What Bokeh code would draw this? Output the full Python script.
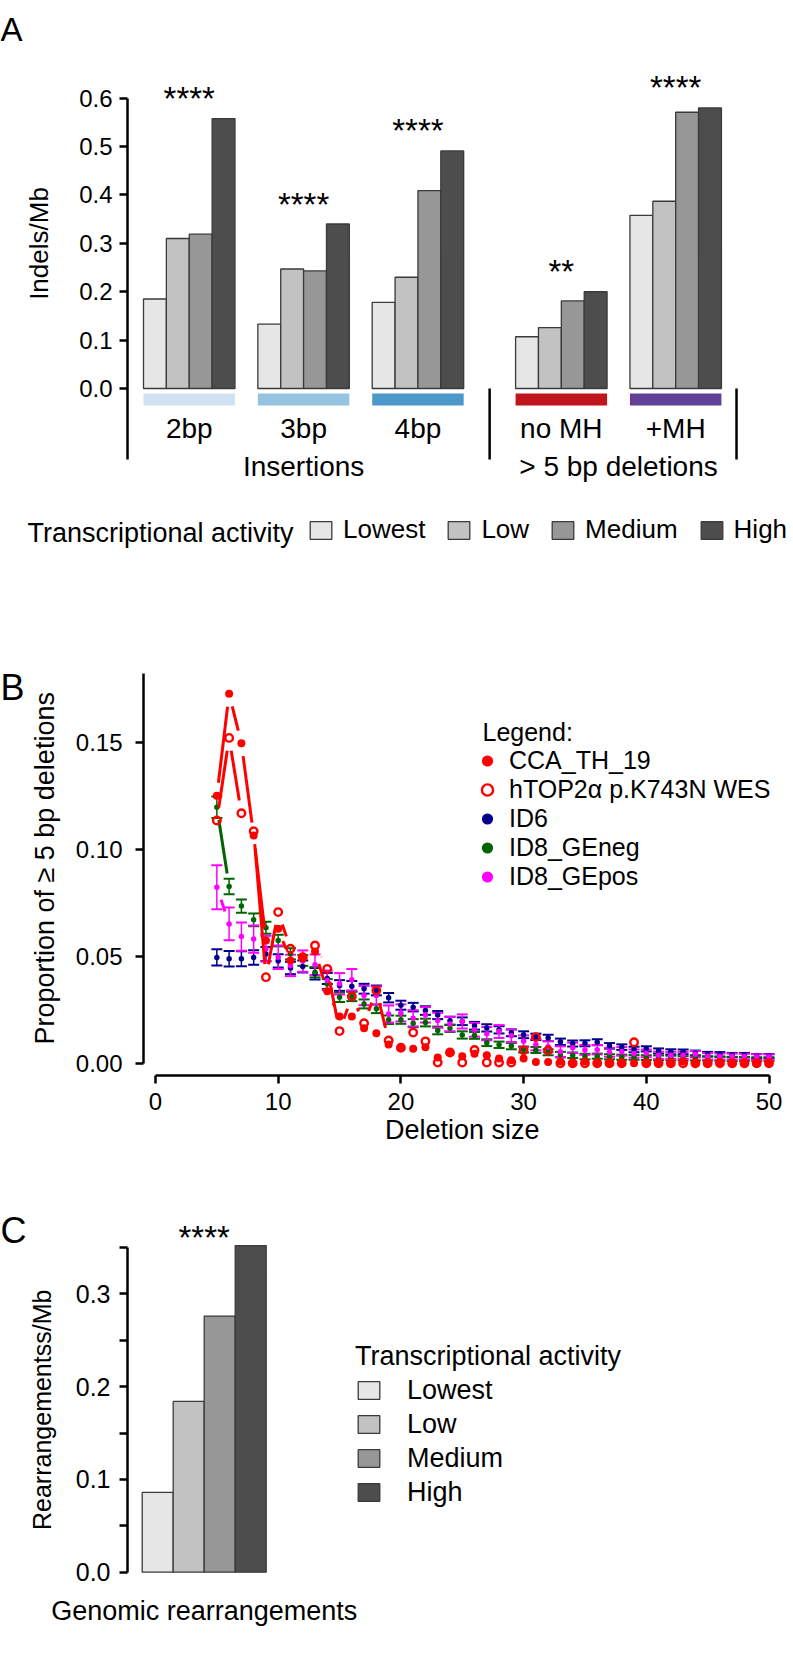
import math
from bokeh.plotting import figure
from bokeh.layouts import column
from bokeh.models import (Range1d, FixedTicker, NumeralTickFormatter, ColumnDataSource,
                          Legend, LegendItem, Whisker, TeeHead, LinearAxis)
from bokeh.embed import file_html
from bokeh.resources import INLINE
from bokeh.core.properties import value

# ------------------------------------------------------------------ data A
groups_a = ["2bp", "3bp", "4bp", "no MH", "+MH"]
types_a = ["Insertions", "Insertions", "Insertions", "> 5 bp deletions", "> 5 bp deletions"]
tiers = ["Lowest", "Low", "Medium", "High"]
lowest_a = [0.185, 0.133, 0.178, 0.107, 0.358]
low_a = [0.310, 0.247, 0.230, 0.126, 0.387]
medium_a = [0.319, 0.243, 0.409, 0.181, 0.571]
high_a = [0.558, 0.340, 0.491, 0.200, 0.580]
stars_a = ["****", "****", "****", "**", "****"]
ticks_a = [0.0, 0.1, 0.2, 0.3, 0.4, 0.5, 0.6]

# ------------------------------------------------------------------ data B
del_size = list(range(5, 51))
cca_th_19 = [0.1250, 0.1726, 0.1495, 0.1064, 0.0573, 0.0628, 0.0480, 0.0492, 0.0522, 0.0336,
             0.0218, 0.0218, 0.0163, 0.0140, 0.0087, 0.0072, 0.0067, 0.0075, 0.0027, 0.0050,
             0.0033, 0.0044, 0.0037, 0.0022, 0.0014, 0.0022, 0.0006, 0.0006, 0.0008, 0.0,
             0.0008, 0.0, 0.0, 0.0, 0.0, 0.0, 0.0, 0.0, 0.0008, 0.0,
             0.0, 0.0, 0.0, 0.0, 0.0, 0.0]
htop2a = [0.1134, 0.1520, 0.1168, 0.1084, 0.0402, 0.0706, 0.0535, 0.0495, 0.0550, 0.0441,
          0.0150, 0.0312, 0.0187, 0.0340, 0.0106, 0.0072, 0.0143, 0.0102, 0.0003, 0.0050,
          0.0003, 0.0062, 0.0003, 0.0003, 0.0003, 0.0060, 0.0122, 0.0059, 0.0, 0.0,
          0.0, 0.0, 0.0, 0.0, 0.0098, 0.0, 0.0, 0.0, 0.0, 0.0,
          0.0, 0.0, 0.0, 0.0, 0.0, 0.0]
id6 = [0.0494, 0.0488, 0.0488, 0.0494, 0.0510, 0.0478, 0.0445, 0.0452, 0.0418, 0.0396,
       0.0363, 0.0360, 0.0348, 0.0340, 0.0306, 0.0271, 0.0262, 0.0246, 0.0225, 0.0198,
       0.0196, 0.0175, 0.0165, 0.0156, 0.0142, 0.0133, 0.0123, 0.0118, 0.0100, 0.0092,
       0.0093, 0.0098, 0.0081, 0.0075, 0.0064, 0.0067, 0.0057, 0.0053, 0.0053, 0.0048,
       0.0042, 0.0041, 0.0038, 0.0038, 0.0033, 0.0033]
id6_err = [0.0038, 0.0036, 0.0035, 0.0034, 0.0033, 0.0031, 0.0029, 0.0028, 0.0027, 0.0026,
           0.0025, 0.0024, 0.0023, 0.0023, 0.0022, 0.0021, 0.0020, 0.0020, 0.0019, 0.0019,
           0.0018, 0.0018, 0.0017, 0.0017, 0.0016, 0.0016, 0.0015, 0.0015, 0.0015, 0.0014,
           0.0014, 0.0014, 0.0013, 0.0013, 0.0013, 0.0012, 0.0012, 0.0012, 0.0011, 0.0011,
           0.0011, 0.0011, 0.0010, 0.0010, 0.0010, 0.0010]
id8_geneg = [0.1196, 0.0826, 0.0734, 0.0670, 0.0633, 0.0573, 0.0511, 0.0480, 0.0425, 0.0370,
             0.0308, 0.0312, 0.0277, 0.0254, 0.0203, 0.0203, 0.0187, 0.0190, 0.0153, 0.0163,
             0.0132, 0.0130, 0.0096, 0.0086, 0.0080, 0.0064, 0.0062, 0.0051, 0.0040, 0.0037,
             0.0031, 0.0033, 0.0030, 0.0028, 0.0027, 0.0026, 0.0025, 0.0024, 0.0023, 0.0023,
             0.0022, 0.0021, 0.0020, 0.0020, 0.0019, 0.0019]
id8_geneg_err = [0.0050, 0.0036, 0.0031, 0.0030, 0.0028, 0.0027, 0.0026, 0.0025, 0.0024, 0.0023,
                 0.0022, 0.0022, 0.0021, 0.0020, 0.0020, 0.0019, 0.0019, 0.0018, 0.0018, 0.0017,
                 0.0017, 0.0016, 0.0016, 0.0015, 0.0015, 0.0014, 0.0014, 0.0014, 0.0013, 0.0013,
                 0.0013, 0.0012, 0.0012, 0.0012, 0.0011, 0.0011, 0.0011, 0.0011, 0.0010, 0.0010,
                 0.0010, 0.0010, 0.0010, 0.0009, 0.0009, 0.0009]
id8_gepos = [0.0822, 0.0651, 0.0592, 0.0580, 0.0535, 0.0495, 0.0457, 0.0477, 0.0460, 0.0387,
             0.0371, 0.0390, 0.0316, 0.0316, 0.0230, 0.0235, 0.0210, 0.0226, 0.0200, 0.0183,
             0.0195, 0.0156, 0.0138, 0.0148, 0.0128, 0.0102, 0.0087, 0.0077, 0.0054, 0.0072,
             0.0062, 0.0063, 0.0051, 0.0055, 0.0045, 0.0046, 0.0037, 0.0037, 0.0037, 0.0042,
             0.0032, 0.0031, 0.0031, 0.0031, 0.0029, 0.0029]
id8_gepos_err = [0.0103, 0.0076, 0.0066, 0.0064, 0.0060, 0.0055, 0.0050, 0.0050, 0.0048, 0.0046,
                 0.0050, 0.0050, 0.0045, 0.0042, 0.0040, 0.0040, 0.0038, 0.0036, 0.0035, 0.0034,
                 0.0033, 0.0032, 0.0031, 0.0030, 0.0029, 0.0028, 0.0027, 0.0026, 0.0025, 0.0024,
                 0.0023, 0.0022, 0.0021, 0.0020, 0.0019, 0.0018, 0.0017, 0.0016, 0.0016, 0.0015,
                 0.0015, 0.0014, 0.0014, 0.0013, 0.0013, 0.0012]
ticks_bx = [0, 10, 20, 30, 40, 50]
ticks_by = [0.0, 0.05, 0.10, 0.15]

# ------------------------------------------------------------------ data C
rearrangements = [0.086, 0.184, 0.276, 0.352]
stars_c = "****"
ticks_c = [0.0, 0.1, 0.2, 0.3]
minor_ticks_c = [0.05, 0.15, 0.25, 0.35]

# ------------------------------------------------------------------ styles
FONT = "Liberation Sans"
tier_colors = ["#e6e6e6", "#c2c2c2", "#979797", "#4d4d4d"]
group_colors = ["#d0e2f2", "#94c4df", "#4b98c9", "#c1151d", "#61409a"]
BAR_EDGE = "#3a3a3a"
RED, NAVY, GREEN, MAGENTA = "#ff0000", "#00008b", "#006400", "#ff00ff"
AXW = 2.5
W = 793
X0, Y0 = 0, 0     # page offset of the first figure


def make_axis(fixed, ticks, fmt, bounds, size, standoff, minor=None):
    ax = LinearAxis(fixed_location=fixed,
                    ticker=FixedTicker(ticks=ticks, minor_ticks=minor or []),
                    bounds=bounds)
    if fmt:
        ax.formatter = NumeralTickFormatter(format=fmt)
    ax.axis_line_width = AXW
    ax.axis_line_color = "black"
    ax.major_tick_line_width = AXW
    ax.major_tick_line_color = "black"
    ax.major_tick_out = 8
    ax.major_tick_in = 0
    if minor:
        ax.minor_tick_line_color = "black"
        ax.minor_tick_line_width = AXW
        ax.minor_tick_out = 8
        ax.minor_tick_in = 0
    else:
        ax.minor_tick_line_color = None
    ax.major_label_text_font = FONT
    ax.major_label_text_font_size = size
    ax.major_label_text_color = "black"
    ax.major_label_standoff = standoff
    return ax


def base_fig(h, xr, yr):
    p = figure(width=W, height=h, x_range=xr, y_range=yr, toolbar_location=None,
               output_backend="svg", x_axis_location=None, y_axis_location=None,
               min_border_left=0, min_border_right=0, min_border_top=0, min_border_bottom=0)
    p.outline_line_color = None
    p.grid.visible = False
    p.background_fill_color = "white"
    return p


def put_text(p, x, y, txt, size, align="left", baseline="middle", angle=0.0, y_offset=0):
    p.text(x=x if isinstance(x, list) else [x], y=y if isinstance(y, list) else [y],
           text=txt if isinstance(txt, list) else [txt], angle=angle,
           text_align=align, text_baseline=baseline, y_offset=y_offset,
           text_font=value(FONT), text_font_size=value(size), text_color="black")


def plain_legend(leg, size):
    leg.border_line_color = None
    leg.background_fill_alpha = 0
    leg.padding = 0
    leg.margin = 0
    leg.label_text_font = FONT
    leg.label_text_font_size = size
    leg.label_text_color = "black"


# ================================================================== panel A
HA, TOPA = 568, Y0
UA, YA = 22.87, 483.8          # px per bar width, px per unit


def xa(px):
    return (px - 143) / UA


def ya(py):
    return (388 - py) / YA


pa = base_fig(HA, Range1d(xa(X0), xa(X0 + W)), Range1d(ya(TOPA + HA), ya(TOPA)))
pa.add_layout(make_axis(xa(127), ticks_a, "0.0", (ya(459), ticks_a[-1]), "24px", 7), "left")

type_gap = 1.27                 # extra bar widths between insertions and deletions
starts = [g * 5 + (type_gap if t != types_a[0] else 0) for g, t in enumerate(types_a)]
centers = [s + 2 for s in starts]

bar_renderers = []
for i, vals in enumerate([lowest_a, low_a, medium_a, high_a]):
    src = ColumnDataSource(dict(x=[s + i + 0.5 for s in starts], top=vals))
    r = pa.vbar(x="x", top="top", bottom=0, width=1, source=src,
                fill_color=tier_colors[i], line_color=BAR_EDGE, line_width=1.3)
    bar_renderers.append(r)

pa.vbar(x=centers, width=4, top=ya(393), bottom=ya(405), fill_color=group_colors, line_color=None)
put_text(pa, centers, [ya(428)] * len(centers), groups_a, "28px", align="center")

type_names = []
for t in types_a:
    if t not in type_names:
        type_names.append(t)
type_centers = [sum(c for c, tt in zip(centers, types_a) if tt == t) /
                sum(1 for tt in types_a if tt == t) for t in type_names]
put_text(pa, type_centers, [ya(466)] * len(type_names), type_names, "28px", align="center")

sep1 = (starts[2] + 4 + starts[3]) / 2
sep2 = starts[4] + 4 + 0.66
pa.segment(x0=[sep1, sep2], y0=[0, 0], x1=[sep1, sep2], y1=[ya(459)] * 2,
           line_color="black", line_width=AXW)

tops = [max(v) for v in zip(lowest_a, low_a, medium_a, high_a)]
put_text(pa, centers, tops, stars_a, "33px", align="center", baseline="alphabetic", y_offset=-20)

put_text(pa, xa(38), ya(243), "Indels/Mb", "26px", align="center", angle=math.pi / 2)
put_text(pa, xa(0), ya(29), "A", "33px", baseline="alphabetic")
put_text(pa, xa(27), ya(532), "Transcriptional activity", "27px")

leg_a = Legend(items=[LegendItem(label=t, renderers=[r]) for t, r in zip(tiers, bar_renderers)],
               orientation="horizontal", location=(307 - X0, TOPA + HA - 545))
plain_legend(leg_a, "26px")
leg_a.glyph_width = 27
leg_a.glyph_height = 22
leg_a.label_height = 30
leg_a.label_standoff = 9
leg_a.spacing = 20
pa.add_layout(leg_a)

# ================================================================== panel B
HB, TOPB = 582, Y0 + 568
UB, YB = 12.27, 2140.0


def xb(px):
    return (px - 155) / UB


def yb(py):
    return (1062.7 - py) / YB


pb = base_fig(HB, Range1d(xb(X0), xb(X0 + W)), Range1d(yb(TOPB + HB), yb(TOPB)))
pb.add_layout(make_axis(yb(1075), ticks_bx, None, (ticks_bx[0], ticks_bx[-1]), "24px", 9), "below")
pb.add_layout(make_axis(xb(143), ticks_by, "0.00", (0, yb(673)), "24px", 13), "left")

GAP = 13.0


def gapped(xs, ys):
    out = dict(x0=[], y0=[], x1=[], y1=[])
    for i in range(len(xs) - 1):
        ddx, ddy = xs[i + 1] - xs[i], ys[i + 1] - ys[i]
        L = math.hypot(ddx * UB, ddy * YB)
        if L <= 2 * GAP:
            continue
        f = GAP / L
        out["x0"].append(xs[i] + ddx * f)
        out["y0"].append(ys[i] + ddy * f)
        out["x1"].append(xs[i + 1] - ddx * f)
        out["y1"].append(ys[i + 1] - ddy * f)
    return out


series_err = [(id6, id6_err, NAVY), (id8_geneg, id8_geneg_err, GREEN), (id8_gepos, id8_gepos_err, MAGENTA)]
point_renderers = {}
for vals, err, col in series_err:
    src = ColumnDataSource(dict(x=del_size, y=vals,
                                lo=[v - e for v, e in zip(vals, err)],
                                up=[v + e for v, e in zip(vals, err)]))
    w = Whisker(source=src, base="x", lower="lo", upper="up", dimension="height",
                line_color=col, line_width=1.5,
                upper_head=TeeHead(size=11, line_color=col, line_width=2),
                lower_head=TeeHead(size=11, line_color=col, line_width=2))
    pb.add_layout(w)
    pb.segment(x0="x0", y0="y0", x1="x1", y1="y1", source=ColumnDataSource(gapped(del_size, vals)),
               line_color=col, line_width=3)
    point_renderers[col] = pb.scatter(x="x", y="y", source=src, marker="circle", size=5.5,
                                      fill_color=col, line_color=None)

for vals in (cca_th_19, htop2a):
    pb.segment(x0="x0", y0="y0", x1="x1", y1="y1", source=ColumnDataSource(gapped(del_size, vals)),
               line_color=RED, line_width=3)
r_cca = pb.scatter(x=del_size, y=cca_th_19, marker="circle", size=8, fill_color=RED, line_color=None)
r_htop = pb.scatter(x=del_size, y=htop2a, marker="circle", size=7.5, fill_color=None,
                    line_color=RED, line_width=2.4)

leg_b = Legend(items=[LegendItem(label="CCA_TH_19", renderers=[r_cca]),
                      LegendItem(label="hTOP2\u03b1 p.K743N WES", renderers=[r_htop]),
                      LegendItem(label="ID6", renderers=[point_renderers[NAVY]]),
                      LegendItem(label="ID8_GEneg", renderers=[point_renderers[GREEN]]),
                      LegendItem(label="ID8_GEpos", renderers=[point_renderers[MAGENTA]])],
               location=(473 - X0, TOPB + HB - 890.5))
plain_legend(leg_b, "25px")
leg_b.glyph_width = 28
leg_b.glyph_height = 29
leg_b.label_height = 29
leg_b.label_standoff = 8
leg_b.spacing = 0
pb.add_layout(leg_b)

put_text(pb, xb(482), yb(731.7), "Legend:", "25px")
put_text(pb, xb(0), yb(687), "B", "36px", baseline="alphabetic")
put_text(pb, sum(ticks_bx) / len(ticks_bx), yb(1129), "Deletion size", "27px", align="center")
put_text(pb, xb(44), yb(673) / 2, "Proportion of \u2265 5 bp deletions", "27px", align="center",
         angle=math.pi / 2)

# ================================================================== panel C
HC, TOPC = 524, Y0 + 568 + 582
UC, YC = 31.0, 928.0


def xc(px):
    return (px - 157.2) / UC


def yc(py):
    return (1571.7 - py) / YC


pc = base_fig(HC, Range1d(xc(X0), xc(X0 + W)), Range1d(yc(TOPC + HC), yc(TOPC)))
pc.add_layout(make_axis(xc(127), ticks_c, "0.0", (0, minor_ticks_c[-1]), "25px", 9,
                        minor=minor_ticks_c), "left")

xs_c = list(range(len(tiers)))
r_c = pc.vbar(x=xs_c, top=rearrangements, bottom=0, width=1, fill_color=tier_colors,
              line_color=BAR_EDGE, line_width=1.3)
mid_c = sum(xs_c) / len(xs_c)
put_text(pc, mid_c, max(rearrangements), stars_c, "33px", align="center", baseline="alphabetic",
         y_offset=-8)
put_text(pc, mid_c, yc(1610), "Genomic rearrangements", "27px", align="center")
put_text(pc, xc(41), minor_ticks_c[-1] / 2, "Rearrangementss/Mb", "25px", align="center",
         angle=math.pi / 2)
put_text(pc, xc(0), yc(1230), "C", "36px", baseline="alphabetic")

leg_c = Legend(items=[LegendItem(label=t, renderers=[r_c], index=i) for i, t in enumerate(tiers)],
               location=(355 - X0, TOPC + HC - 1509), title="Transcriptional activity")
plain_legend(leg_c, "27px")
leg_c.title_text_font = FONT
leg_c.title_text_font_size = "27px"
leg_c.title_text_font_style = "normal"
leg_c.title_text_color = "black"
leg_c.title_standoff = 1
leg_c.glyph_width = 27
leg_c.glyph_height = 22
leg_c.label_height = 34
leg_c.label_standoff = 25
leg_c.spacing = 0
pc.add_layout(leg_c)

layout = column(pa, pb, pc, spacing=0)
open("out.html", "w").write(file_html(layout, INLINE))
